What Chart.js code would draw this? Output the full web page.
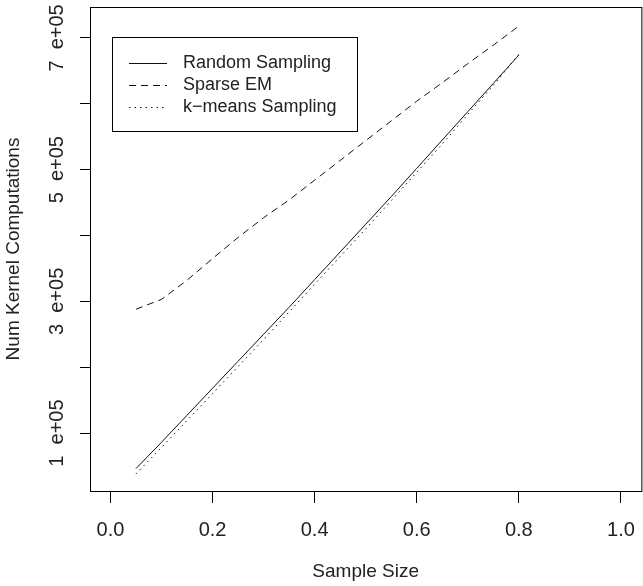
<!DOCTYPE html>
<html>
<head>
<meta charset="utf-8">
<script src="https://cdn.jsdelivr.net/npm/chart.js@4/dist/chart.umd.min.js"></script>
<style>
  html, body { margin: 0; padding: 0; background: #fff; overflow: hidden; }
  canvas { display: block; }
</style>
</head>
<body>
<canvas id="kernelChart" width="650" height="586"></canvas>
<script>
// values (y in kernel computations)
const sampleSizes = [0.05, 0.10, 0.15, 0.20, 0.25, 0.30, 0.35, 0.40, 0.45, 0.50, 0.55, 0.60, 0.65, 0.70, 0.75, 0.80];
const randomSampling = [46000, 86000, 127000, 168000, 209000, 250000, 291000, 333000, 375000, 417000, 459000, 502000, 545000, 588000, 631000, 674000];
const sparseEM = [288000, 303000, 332000, 365000, 397000, 427000, 454000, 484000, 514000, 544000, 574000, 604000, 632000, 661000, 689000, 718000];
const kmeansSampling = [38000, 78000, 119000, 160000, 201000, 242000, 284000, 326000, 368000, 410000, 453000, 496000, 539000, 584000, 628000, 675000];

const seriesNames = ['Random Sampling', 'Sparse EM', 'k\u2212means Sampling'];
const xTicks = [0.0, 0.2, 0.4, 0.6, 0.8, 1.0];
const yTicks = [100000, 200000, 300000, 400000, 500000, 600000, 700000];
const yTickLabels = ['1  e+05', '', '3  e+05', '', '5  e+05', '', '7  e+05'];

document.addEventListener("DOMContentLoaded", function () {
    const textColor = '#222';
    const toPoints = (ys) => sampleSizes.map((x, i) => ({x: x, y: ys[i]}));

    // R style box around the plot region
    const boxPlugin = {
        id: 'plotBox',
        afterDraw(chart) {
            const a = chart.chartArea;
            const ctx = chart.ctx;
            ctx.save();
            ctx.strokeStyle = '#000';
            ctx.lineWidth = 1;
            ctx.strokeRect(a.left + 0.5, a.top + 0.5, a.right - a.left, a.bottom - a.top);
            ctx.restore();
        }
    };

    // rotated y tick labels
    const yLabelPlugin = {
        id: 'yLabels',
        afterDraw(chart) {
            const y = chart.scales.y;
            const ctx = chart.ctx;
            ctx.save();
            ctx.fillStyle = textColor;
            ctx.font = '20px "Liberation Sans", Arial, sans-serif';
            ctx.textAlign = 'center';
            ctx.textBaseline = 'middle';
            yTicks.forEach((v, i) => {
                if (!yTickLabels[i]) return;
                ctx.save();
                ctx.translate(chart.chartArea.left - 33, y.getPixelForValue(v));
                ctx.rotate(-Math.PI / 2);
                ctx.fillText(yTickLabels[i], 0, 0);
                ctx.restore();
            });
            ctx.restore();
        }
    };

    // boxed legend in the top left corner of the plot
    const legendPlugin = {
        id: 'boxLegend',
        afterDraw(chart) {
            const a = chart.chartArea;
            const ctx = chart.ctx;
            const left = a.left + 22, top = a.top + 30;
            ctx.save();
            ctx.fillStyle = '#fff';
            ctx.fillRect(left, top, 245, 94);
            ctx.strokeStyle = '#000';
            ctx.lineWidth = 1;
            ctx.strokeRect(left + 0.5, top + 0.5, 245, 94);
            ctx.font = '18px "Liberation Sans", Arial, sans-serif';
            ctx.textBaseline = 'middle';
            chart.data.datasets.forEach((ds, i) => {
                const cy = top + 26 + i * 22;
                ctx.setLineDash(ds.borderDash || []);
                ctx.strokeStyle = ds.borderColor;
                ctx.beginPath();
                ctx.moveTo(left + 17, cy + 0.5);
                ctx.lineTo(left + 55, cy + 0.5);
                ctx.stroke();
                ctx.setLineDash([]);
                ctx.fillStyle = textColor;
                ctx.fillText(ds.label, left + 71, cy);
            });
            ctx.restore();
        }
    };

    const data = {
        datasets: [{
            label: seriesNames[0],
            data: toPoints(randomSampling),
            borderColor: '#111',
            borderWidth: 1,
            pointRadius: 0,
        }, {
            label: seriesNames[1],
            data: toPoints(sparseEM),
            borderColor: '#111',
            borderWidth: 1,
            borderDash: [7, 5],
            pointRadius: 0,
        }, {
            label: seriesNames[2],
            data: toPoints(kmeansSampling),
            borderColor: '#111',
            borderWidth: 1,
            borderDash: [1.5, 4],
            pointRadius: 0,
        }]
    };

    const config = {
        type: 'line',
        data: data,
        options: {
            responsive: false,
            animation: false,
            layout: { padding: { top: 7, right: 4, left: 0, bottom: 0 } },
            plugins: {
                legend: { display: false },
                tooltip: { enabled: false },
            },
            scales: {
                x: {
                    type: 'linear',
                    min: -0.04,
                    max: 1.04,
                    afterBuildTicks: (scale) => { scale.ticks = xTicks.map(v => ({value: v})); },
                    afterFit: (scale) => { scale.height = 95; },
                    grid: { drawOnChartArea: false, drawTicks: true, tickLength: 12, color: '#000' },
                    border: { display: true, color: '#000' },
                    ticks: {
                        padding: 15,
                        color: textColor,
                        font: { size: 20, family: '"Liberation Sans", Arial, sans-serif' },
                        maxRotation: 0,
                        autoSkip: false,
                        callback: (v) => Number(v).toFixed(1),
                    },
                    title: {
                        display: true,
                        text: 'Sample Size',
                        color: textColor,
                        font: { size: 19, family: '"Liberation Sans", Arial, sans-serif' },
                        padding: { top: 0, bottom: 3 },
                    },
                },
                y: {
                    type: 'linear',
                    min: 12000,
                    max: 747000,
                    afterBuildTicks: (scale) => { scale.ticks = yTicks.map(v => ({value: v})); },
                    afterFit: (scale) => { scale.width = 90; },
                    grid: { drawOnChartArea: false, drawTicks: true, tickLength: 10, color: '#000' },
                    border: { display: true, color: '#000' },
                    ticks: { display: false },
                    title: {
                        display: true,
                        text: 'Num Kernel Computations',
                        color: textColor,
                        font: { size: 19, family: '"Liberation Sans", Arial, sans-serif' },
                        padding: { top: 2, bottom: 0 },
                    },
                },
            },
        },
        plugins: [boxPlugin, yLabelPlugin, legendPlugin],
    };

    new Chart(document.getElementById('kernelChart'), config);
});
</script>
</body>
</html>
